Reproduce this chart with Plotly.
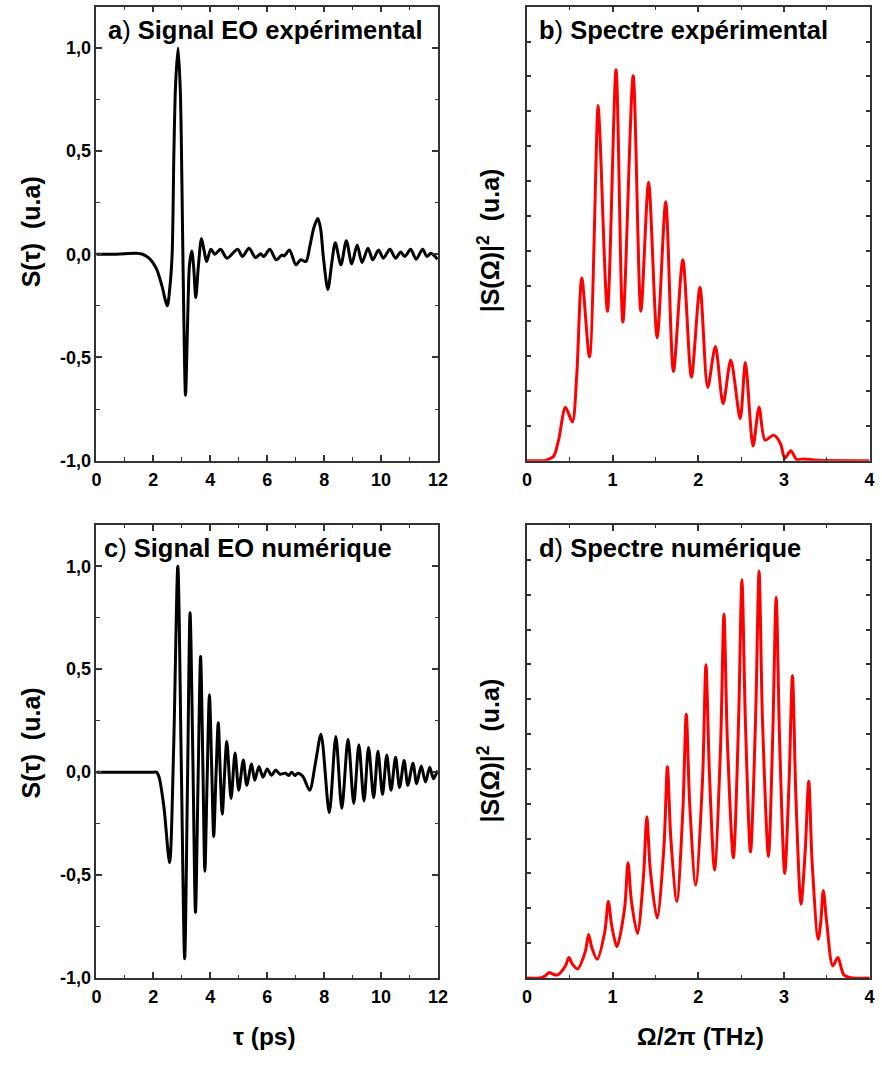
import plotly.graph_objects as go

FONT = "Liberation Sans, Arial, sans-serif"
W, H = 882, 1066

# ---- a) experimental EO signal -------------------------------------------
a_t = [0.0, 0.5, 1.0, 1.4, 1.62, 1.85, 2.1, 2.29, 2.49, 2.58, 2.66, 2.72, 2.78, 2.87,
       2.95, 3.0, 3.05, 3.13, 3.2, 3.27, 3.35, 3.42, 3.49, 3.58, 3.69, 3.78, 3.87, 4.02,
       4.16, 4.36, 4.59, 4.96, 5.13, 5.36, 5.59, 5.77, 5.88, 6.09, 6.32, 6.52, 6.6, 6.78,
       7.01, 7.17, 7.36, 7.5, 7.64, 7.78, 7.88, 7.97, 8.13, 8.27, 8.39, 8.59, 8.78, 8.97,
       9.16, 9.33, 9.54, 9.71, 9.91, 10.08, 10.31, 10.51, 10.69, 10.83, 11.04, 11.23,
       11.46, 11.61, 11.75, 11.98]
a_s = [0.0, 0.0, 0.003, 0.005, 0.0, -0.019, -0.067, -0.147, -0.25, -0.16, 0.0, 0.48,
       0.82, 1.0, 0.78, 0.38, -0.12, -0.683, -0.35, -0.05, 0.016, -0.07, -0.21, -0.06,
       0.077, 0.02, -0.035, 0.024, 0.0, 0.024, -0.019, 0.024, -0.011, 0.029, -0.016,
       0.002, -0.011, 0.024, -0.027, -0.003, -0.008, 0.021, -0.051, -0.027, -0.035, 0.04,
       0.13, 0.173, 0.12, -0.01, -0.171, -0.04, 0.056, -0.051, 0.066, -0.047, 0.045,
       -0.04, 0.029, -0.027, 0.021, -0.019, 0.024, -0.019, 0.011, -0.011, 0.024, -0.024,
       0.024, -0.011, 0.005, -0.024]

# ---- b) experimental spectrum ---------------------------------------------
b_f = [0.0, 0.2, 0.24, 0.31, 0.37, 0.45, 0.53, 0.58, 0.64, 0.73, 0.83, 0.85, 0.94, 1.04,
       1.12, 1.24, 1.33, 1.42, 1.52, 1.62, 1.71, 1.82, 1.92, 2.02, 2.11, 2.20, 2.29, 2.38,
       2.49, 2.55, 2.64, 2.71, 2.78, 2.88, 2.96, 3.01, 3.08, 3.15, 3.22, 3.4, 4.0]
b_v = [0.0, 0.0, 0.03, 0.12, 0.6, 1.53, 1.11, 2.39, 5.23, 2.97, 10.17, 9.44, 4.28, 11.19,
       3.97, 11.02, 4.28, 7.97, 3.52, 7.41, 2.55, 5.75, 2.39, 4.96, 2.10, 3.27, 1.63, 2.88,
       1.20, 2.81, 0.42, 1.53, 0.59, 0.73, 0.49, 0.07, 0.28, 0.03, 0.05, 0.01, 0.0]

# ---- c) simulated EO signal -------------------------------------------------
c_t = [0.0, 2.0, 2.11, 2.2, 2.37, 2.57, 2.71, 2.86, 2.98, 3.10, 3.20, 3.29, 3.39, 3.48,
       3.57, 3.66, 3.74, 3.81, 3.89, 3.97, 4.05, 4.12, 4.20, 4.28, 4.35, 4.42, 4.58, 4.73,
       4.87, 5.0, 5.16, 5.28, 5.45, 5.56, 5.71, 5.85, 6.0, 6.15, 6.3, 6.45, 6.64, 6.75,
       6.86, 6.97, 7.08, 7.25, 7.49, 7.7, 7.89, 8.18, 8.41, 8.62, 8.84, 9.04, 9.22, 9.40,
       9.56, 9.74, 9.89, 10.05, 10.20, 10.35, 10.51, 10.65, 10.81, 10.94, 11.12, 11.25,
       11.41, 11.56, 11.71, 11.84, 11.98]
c_s = [0.0, 0.0, 0.0, -0.024, -0.168, -0.44, 0.1, 1.0, 0.05, -0.906, -0.05, 0.774, 0.05,
       -0.681, -0.05, 0.561, 0.03, -0.481, -0.03, 0.376, 0.02, -0.313, -0.02, 0.24, 0.0,
       -0.204, 0.149, -0.128, 0.093, -0.088, 0.059, -0.064, 0.04, -0.04, 0.027, -0.025,
       0.015, -0.015, 0.01, -0.01, -0.005, -0.016, 0.0, -0.016, -0.005, -0.02, -0.088,
       0.05, 0.184, -0.197, 0.173, -0.176, 0.16, -0.152, 0.133, -0.14, 0.12, -0.124,
       0.101, -0.108, 0.083, -0.088, 0.072, -0.075, 0.056, -0.064, 0.043, -0.056, 0.03,
       -0.048, 0.024, -0.032, 0.008]

# ---- d) simulated spectrum --------------------------------------------------
d_f = [0.0, 0.15, 0.21, 0.26, 0.31, 0.36, 0.45, 0.49, 0.53, 0.59, 0.68, 0.72, 0.76, 0.82,
       0.91, 0.95, 0.99, 1.05, 1.14, 1.18, 1.22, 1.29, 1.36, 1.40, 1.44, 1.52, 1.60, 1.64,
       1.68, 1.75, 1.82, 1.86, 1.90, 1.97, 2.05, 2.09, 2.13, 2.19, 2.26, 2.30, 2.34, 2.41,
       2.47, 2.51, 2.55, 2.61, 2.67, 2.71, 2.75, 2.82, 2.87, 2.91, 2.95, 3.01, 3.06, 3.10,
       3.14, 3.20, 3.25, 3.29, 3.33, 3.40, 3.43, 3.46, 3.50, 3.57, 3.63, 3.70, 3.8, 4.0]
d_v = [0.0, 0.0, 0.06, 0.16, 0.1, 0.09, 0.35, 0.59, 0.4, 0.26, 0.75, 1.25, 0.85, 0.54,
       1.35, 2.20, 1.5, 0.90, 2.0, 3.31, 2.2, 1.28, 2.9, 4.63, 3.1, 1.72, 3.8, 6.06, 4.0,
       2.20, 4.8, 7.57, 5.0, 2.67, 5.7, 8.99, 5.9, 3.10, 6.6, 10.45, 6.8, 3.45, 7.3, 11.43,
       7.4, 3.62, 7.5, 11.68, 7.4, 3.49, 7.0, 10.93, 6.8, 3.0, 5.6, 8.68, 5.2, 2.12, 3.7,
       5.65, 3.3, 1.11, 1.6, 2.51, 1.6, 0.35, 0.59, 0.09, 0.0, 0.0]

sig_ticks = [-1.0, -0.5, 0.0, 0.5, 1.0]
sig_labels = ["-1,0", "-0,5", "0,0", "0,5", "1,0"]
t_ticks = [0, 2, 4, 6, 8, 10, 12]
f_ticks = [0, 1, 2, 3, 4]

fig = go.Figure()
line_k = dict(color="black", width=3, shape="spline", smoothing=0.8)
line_r = dict(color="#ff0000", width=3, shape="spline", smoothing=0.8)
fig.add_trace(go.Scatter(x=a_t, y=a_s, mode="lines", line=line_k, xaxis="x", yaxis="y"))
fig.add_trace(go.Scatter(x=b_f, y=b_v, mode="lines", line=line_r, xaxis="x2", yaxis="y2"))
fig.add_trace(go.Scatter(x=c_t, y=c_s, mode="lines", line=line_k, xaxis="x3", yaxis="y3"))
fig.add_trace(go.Scatter(x=d_f, y=d_v, mode="lines", line=line_r, xaxis="x4", yaxis="y4"))

AX = "#333333"
tickfont = dict(family=FONT, size=18, color="black", weight="bold")


def axis(domain, rng, anchor, **kw):
    d = dict(domain=domain, range=rng, anchor=anchor, showline=True, linecolor=AX,
             linewidth=1.5, mirror="allticks", ticks="inside", ticklen=6, tickwidth=1.5,
             tickcolor=AX, showgrid=False, zeroline=False, tickfont=tickfont)
    d.update(kw)
    return d


xl = [93 / W, 440.5 / W]
xr = [531 / W, 879.5 / W]
yt = [1 - 465 / H, 1 - 6.7 / H]
yb = [1 - 987.3 / H, 1 - 530 / H]

minor_t = dict(ticks="inside", ticklen=3.5, tickwidth=1.2, tickcolor=AX, dtick=1, showgrid=False)
minor_f = dict(ticks="inside", ticklen=3.5, tickwidth=1.2, tickcolor=AX, dtick=0.5, showgrid=False)
minor_s = dict(ticks="inside", ticklen=3.5, tickwidth=1.2, tickcolor=AX, dtick=0.25, showgrid=False)

fig.update_layout(
    width=W, height=H, margin=dict(l=0, r=0, t=0, b=0),
    paper_bgcolor="white", plot_bgcolor="white", showlegend=False,
    xaxis=axis(xl, [0, 12], "y", tickvals=t_ticks, minor=minor_t, ticklabelstandoff=2),
    yaxis=axis(yt, [-1, 1.2], "x", tickvals=sig_ticks, ticktext=sig_labels, minor=minor_s),
    xaxis2=axis(xr, [0, 4], "y2", tickvals=f_ticks, minor=minor_f, ticklabelstandoff=2),
    yaxis2=axis(yt, [0, 13], "x2", dtick=1, ticklen=4, showticklabels=False),
    xaxis3=axis(xl, [0, 12], "y3", tickvals=t_ticks, minor=minor_t, ticklabelstandoff=2),
    yaxis3=axis(yb, [-1, 1.2], "x3", tickvals=sig_ticks, ticktext=sig_labels, minor=minor_s),
    xaxis4=axis(xr, [0, 4], "y4", tickvals=f_ticks, minor=minor_f, ticklabelstandoff=2),
    yaxis4=axis(yb, [0, 13], "x4", dtick=1, ticklen=4, showticklabels=False),
)


def px_ann(text, x, y, size, xanchor="center", angle=0):
    fig.add_annotation(text=text, x=x / W, y=1 - y / H, xref="paper", yref="paper",
                       xanchor=xanchor, yanchor="middle", showarrow=False, textangle=angle,
                       font=dict(family=FONT, size=size, color="black"))


NB = "\u00a0"
px_ann("<b>a</b>) <b>Signal EO expérimental</b>", 103, 30, 25.5, "left")
px_ann("<b>b</b>) <b>Spectre expérimental</b>", 541, 30, 25.5, "left")
px_ann("<b>c</b>) <b>Signal EO numérique</b>", 99, 553, 25.5, "left")
px_ann("<b>d</b>) <b>Spectre numérique</b>", 541, 553, 25.5, "left")

px_ann(f"<b>S(τ){NB}{NB}(u.a)</b>", 26, 234, 25, angle=-90)
px_ann(f"<b>S(τ){NB}{NB}(u.a)</b>", 26, 750, 25, angle=-90)
px_ann(f"<b>|S(Ω)|<sup>2</sup>{NB}{NB}(u.a)</b>", 492, 243, 25, angle=-90)
px_ann(f"<b>|S(Ω)|<sup>2</sup>{NB}{NB}(u.a)</b>", 492, 758, 25, angle=-90)

px_ann("<b>τ (ps)</b>", 264, 1046, 24.5)
px_ann("<b>Ω/2π (THz)</b>", 708, 1046, 24.5)

fig.write_html("out.html")
